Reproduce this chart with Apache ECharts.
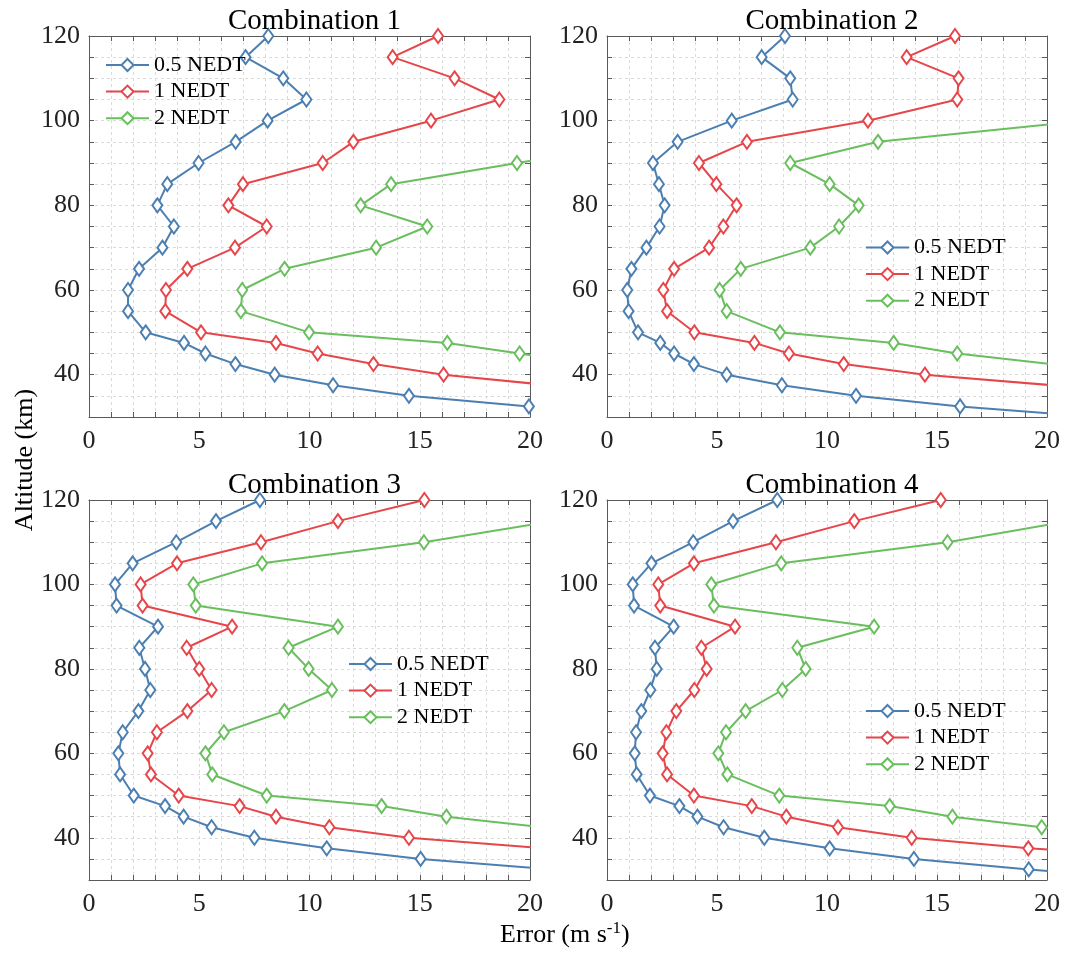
<!DOCTYPE html>
<html>
<head>
<meta charset="utf-8">
<script src="https://cdn.jsdelivr.net/npm/echarts@6/dist/echarts.min.js"></script>
<style>html,body{margin:0;padding:0;background:#fff}#c{width:1066px;height:968px}</style>
</head>
<body>
<div id="c"></div>
<script>
// Altitudes (km) shared by every profile
const altitudes = [120,115,110,105,100,95,90,85,80,75,70,65,60,55,50,47.5,45,42.5,40,37.5,35,32.5,30];
const seriesNames = ['0.5 NEDT','1 NEDT','2 NEDT'];
const panelTitles = ['Combination 1','Combination 2','Combination 3','Combination 4'];
const xTicks = [0,5,10,15,20];
const yTickLabels = [40,60,80,100,120];

// Combination 1 errors (m/s)
const c1_05 = [8.13,7.1,8.81,9.86,8.1,6.65,4.97,3.55,3.1,3.85,3.33,2.27,1.77,1.77,2.57,4.31,5.28,6.64,8.42,11.07,14.51,19.95,null];
const c1_1  = [15.83,13.77,16.58,18.61,15.51,11.99,10.6,6.98,6.32,8.06,6.62,4.46,3.49,3.46,5.08,8.48,10.37,12.9,16.08,20.9,null,null,null];
const c1_2  = [null,null,null,null,null,25.3,19.41,13.7,12.32,15.34,13.02,8.87,6.95,6.89,9.98,16.25,19.53,22.9,null,null,null,null,null];
// Combination 2
const c2_05 = [8.09,7.03,8.33,8.44,5.67,3.21,2.09,2.36,2.62,2.39,1.79,1.11,0.92,0.98,1.41,2.42,3.05,3.95,5.44,7.95,11.32,16.05,22.2];
const c2_1  = [15.82,13.62,15.98,15.92,11.86,6.36,4.18,4.97,5.89,5.29,4.64,3.05,2.56,2.73,3.97,6.7,8.27,10.76,14.45,20.25,null,null,null];
const c2_2  = [null,null,null,null,21.7,12.32,8.33,10.12,11.44,10.55,9.24,6.08,5.12,5.44,7.86,13.03,15.92,20.17,null,null,null,null,null];
// Combination 3
const c3_05 = [7.75,5.76,3.96,1.98,1.18,1.25,3.13,2.28,2.54,2.78,2.24,1.53,1.33,1.41,2.03,3.45,4.29,5.56,7.5,10.78,15.04,21.06,null];
const c3_1  = [15.21,11.29,7.8,3.99,2.34,2.43,6.49,4.43,5.0,5.56,4.46,3.08,2.66,2.81,4.07,6.83,8.48,10.9,14.51,20.64,null,null,null];
const c3_2  = [null,21.08,15.19,7.85,4.73,4.84,11.29,9.05,9.96,11.02,8.86,6.12,5.28,5.59,8.06,13.27,16.21,20.54,null,null,null,null,null];
// Combination 4
const c4_05 = [7.74,5.73,3.92,2.02,1.17,1.23,3.03,2.18,2.26,1.97,1.56,1.32,1.26,1.35,1.95,3.29,4.11,5.3,7.15,10.12,13.95,19.17,25];
const c4_1  = [15.17,11.24,7.68,3.95,2.33,2.42,5.82,4.29,4.53,3.97,3.15,2.7,2.53,2.73,3.95,6.58,8.15,10.5,13.85,19.15,27,null,null];
const c4_2  = [null,21.0,15.48,7.92,4.74,4.86,12.14,8.65,9.03,7.97,6.3,5.41,5.06,5.47,7.83,12.85,15.7,19.76,24,null,null,null,null];

const panelData = [[c1_05,c1_1,c1_2],[c2_05,c2_1,c2_2],[c3_05,c3_1,c3_2],[c4_05,c4_1,c4_2]];

const colors = ['#4c7fb1','#e6464a','#69be5d'];
const FONT = '"Liberation Serif","Times New Roman",serif';
const gridBoxes = [
  {left:89, top:36, width:441, height:381},
  {left:607, top:36, width:440, height:381},
  {left:89, top:500, width:441, height:380},
  {left:607, top:500, width:440, height:380}
];
const legendPos = [
  {left:105, top:54},
  {left:865, top:236.5},
  {left:348, top:653},
  {left:865, top:700}
];

const frameColor = '#5a5a5a';
const gridLine = {show:true, lineStyle:{color:'#dadada', type:[3,3], width:1}};

const option = {
  animation:false,
  backgroundColor:'#fff',
  title: gridBoxes.map((g,i)=>({
    text: panelTitles[i], left: g.left + g.width/2, top: g.top - 34, textAlign:'center',
    textStyle:{fontFamily:FONT, fontSize:29, fontWeight:'normal', color:'#000'}
  })),
  grid: gridBoxes.map(g=>({left:g.left, top:g.top, width:g.width, height:g.height, containLabel:false})),
  legend: legendPos.map(p=>({
    left:p.left, top:p.top, orient:'vertical', selectedMode:false, padding:0,
    itemWidth:43, itemHeight:15, itemGap:4.6,
    data: seriesNames,
    textStyle:{fontFamily:FONT, fontSize:22, color:'#000', lineHeight:22}
  })),
  xAxis: [],
  yAxis: [],
  series: [],
  graphic: [
    {type:'text', left:500, top:920, style:{
      text:'Error (m s{sup|-1})', fontFamily:FONT, fontSize:26, fill:'#000',
      rich:{sup:{fontFamily:FONT, fontSize:17, padding:[0,0,14,0], fill:'#000'}}
    }},
    {type:'text', x:25, y:460, rotation:Math.PI/2, style:{
      text:'Altitude (km)', fontFamily:FONT, fontSize:26, fill:'#000', align:'center', verticalAlign:'middle'
    }}
  ]
};

gridBoxes.forEach((g,i)=>{
  const xBase = {
    gridIndex:i, type:'value', min:xTicks[0], max:xTicks[xTicks.length-1], interval:5,
    axisLine:{show:true, onZero:false, lineStyle:{color:frameColor, width:1}},
    axisTick:{show:true, inside:true, length:5, lineStyle:{color:frameColor}},
    minorTick:{show:true, splitNumber:5, length:5, lineStyle:{color:frameColor}}
  };
  option.xAxis.push(Object.assign({}, xBase, {
    position:'bottom',
    axisLabel:{show:true, fontFamily:FONT, fontSize:26, color:'#222', margin:11},
    splitLine:gridLine, minorSplitLine:gridLine
  }));
  option.xAxis.push(Object.assign({}, xBase, {
    position:'top', axisLabel:{show:false}, splitLine:{show:false}, minorSplitLine:{show:false}
  }));
  const yBase = {
    gridIndex:i, type:'value', min:30, max:120, interval:10,
    axisLine:{show:true, onZero:false, lineStyle:{color:frameColor, width:1}},
    axisTick:{show:true, inside:true, length:5, lineStyle:{color:frameColor}},
    minorTick:{show:true, splitNumber:2, length:5, lineStyle:{color:frameColor}}
  };
  option.yAxis.push(Object.assign({}, yBase, {
    position:'left',
    axisLabel:{show:true, fontFamily:FONT, fontSize:26, color:'#222', margin:9,
      formatter:v=> yTickLabels.indexOf(v)>=0 ? String(v) : ''},
    splitLine:gridLine, minorSplitLine:gridLine
  }));
  option.yAxis.push(Object.assign({}, yBase, {
    position:'right', axisLabel:{show:false}, splitLine:{show:false}, minorSplitLine:{show:false}
  }));
  panelData[i].forEach((vals,k)=>{
    const data = [];
    vals.forEach((v,j)=>{ if(v!==null) data.push([v, altitudes[j]]); });
    option.series.push({
      type:'line', name:seriesNames[k], xAxisIndex:2*i, yAxisIndex:2*i,
      data:data, clip:true, smooth:false,
      symbol:'diamond', symbolSize:[10,14], showSymbol:true,
      lineStyle:{color:colors[k], width:2},
      itemStyle:{color:'#fff', borderColor:colors[k], borderWidth:2},
      emphasis:{disabled:true}, z:2+k
    });
  });
});

const chart = echarts.init(document.getElementById('c'), null, {renderer:'canvas'});
chart.setOption(option);
</script>
</body>
</html>
